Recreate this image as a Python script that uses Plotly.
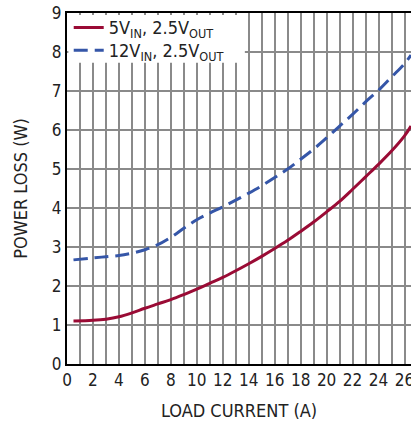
import plotly.graph_objects as go

x_red = [0.5, 2, 3, 4, 5, 6, 7, 8, 9, 10, 11, 12, 13, 14, 15, 16, 17, 18, 19, 20, 21, 22, 23, 24, 25, 26, 26.5]
y_red = [1.10, 1.12, 1.15, 1.21, 1.31, 1.43, 1.54, 1.65, 1.78, 1.92, 2.07, 2.22, 2.39, 2.57, 2.76, 2.96, 3.17, 3.40, 3.64, 3.90, 4.17, 4.48, 4.80, 5.12, 5.46, 5.85, 6.10]
x_blue = [0.5, 2, 3, 4, 5, 6, 7, 8, 9, 10, 11, 12, 13, 14, 15, 16, 17, 18, 19, 20, 21, 22, 23, 24, 25, 26, 26.5]
y_blue = [2.67, 2.72, 2.75, 2.78, 2.84, 2.93, 3.06, 3.25, 3.48, 3.70, 3.87, 4.03, 4.20, 4.38, 4.57, 4.78, 5.00, 5.25, 5.51, 5.80, 6.10, 6.40, 6.72, 7.02, 7.36, 7.70, 7.92]
x_ticks = list(range(0, 27))
x_labels = [str(v) if v % 2 == 0 else "" for v in x_ticks]
y_ticks = list(range(0, 10))

font_fam = "Liberation Sans Narrow, DejaVu Sans Condensed, Roboto, Arial"

fig = go.Figure()
fig.add_trace(go.Scatter(x=x_red, y=y_red, mode="lines", name="5V<sub>IN</sub>, 2.5V<sub>OUT</sub>",
                         legend="legend",
                         line=dict(color="#9a0b35", width=3, shape="spline")))
fig.add_trace(go.Scatter(x=x_blue, y=y_blue, mode="lines", name="12V<sub>IN</sub>, 2.5V<sub>OUT</sub>",
                         legend="legend2",
                         line=dict(color="#3556a8", width=3, dash="14px,7px", shape="spline")))

leg_common = dict(xanchor="left", yanchor="middle", bgcolor="rgba(0,0,0,0)", borderwidth=0,
                  font=dict(size=18, family=font_fam), itemwidth=30)

fig.update_layout(
    width=411, height=424,
    margin=dict(l=67, r=0, t=13, b=60, autoexpand=False),
    paper_bgcolor="white", plot_bgcolor="white",
    font=dict(family=font_fam, color="#222", size=16),
    showlegend=True,
    legend=dict(x=0.005, y=0.958, **leg_common),
    legend2=dict(x=0.005, y=0.893, **leg_common),
    shapes=[dict(type="rect", xref="paper", yref="paper", x0=0.004, x1=0.517,
                 y0=0.858, y1=0.994, fillcolor="white", line=dict(width=0), layer="above")],
    xaxis=dict(range=[0, 26.5], tickvals=x_ticks, ticktext=x_labels, showgrid=True,
               gridcolor="#8a8a8a", gridwidth=1.5, showline=True, linecolor="black",
               linewidth=2, mirror=True, ticks="", zeroline=False, tickfont=dict(size=17),
               automargin=False, ticklabeloverflow="allow",
               title=dict(text="LOAD CURRENT (A)", font=dict(size=18), standoff=15)),
    yaxis=dict(range=[0, 9], tickvals=y_ticks, showgrid=True, gridcolor="#8a8a8a",
               gridwidth=1.5, showline=True, linecolor="black", linewidth=2, mirror=True,
               ticks="", zeroline=False, tickfont=dict(size=17), automargin=False,
               title=dict(text="POWER LOSS (W)", font=dict(size=18), standoff=20)),
)
fig.write_html("out.html", config={"displayModeBar": False},
               post_script="document.body.style.margin='0px';")
